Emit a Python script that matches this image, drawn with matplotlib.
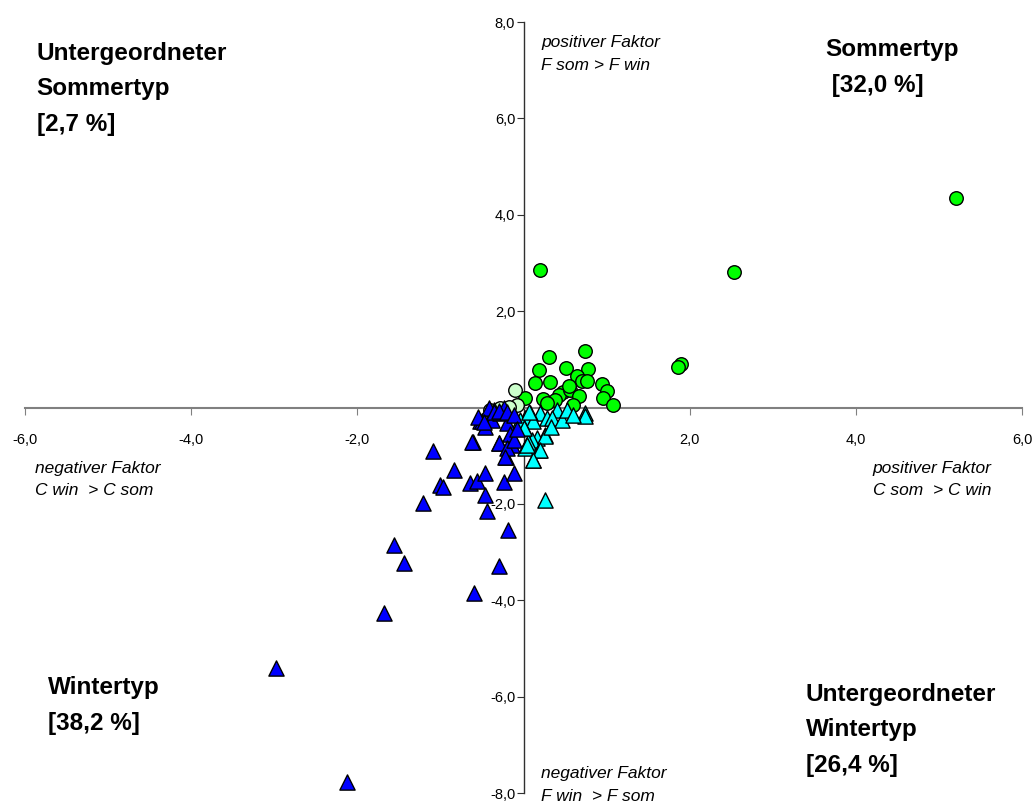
import matplotlib
matplotlib.use("Agg")
import matplotlib.pyplot as plt
from matplotlib.ticker import FuncFormatter

plt.rcParams['font.family'] = ['Liberation Sans', 'DejaVu Sans']

# Sommertyp (green circles)
som_x = [5.21, 2.53, 0.20, 1.90, 1.86, 0.31, 0.74, 0.19, 0.51, 0.78, 0.14, 0.32, 0.64,
         0.70, 0.94, 1.01, 0.96, 1.08, 0.48, 0.43, 0.56, 0.67, 0.60, 0.24, 0.02, 0.55,
         0.76, 0.38, 0.28]
som_y = [4.35, 2.81, 2.85, 0.90, 0.84, 1.05, 1.17, 0.78, 0.81, 0.79, 0.50, 0.52, 0.65,
         0.56, 0.49, 0.34, 0.20, 0.05, 0.32, 0.26, 0.36, 0.24, 0.05, 0.18, 0.20, 0.45,
         0.55, 0.15, 0.10]

# Untergeordneter Sommertyp (pale green circles)
usom_x = [-0.10, -0.08, -0.40, -0.28, -0.18]
usom_y = [0.36, 0.05, -0.05, -0.02, 0.02]

# Wintertyp (blue triangles)
win_x = [-2.98, -2.12, -1.68, -1.44, -1.56, -0.60, -0.29, -0.19, -1.21, -1.09, -0.61,
         -0.84, -1.00, -0.97, -0.64, -0.56, -0.46, -0.24, -0.12, -0.46, -0.44, -0.21,
         -0.29, -0.14, -0.52, -0.38, -0.20, -0.16, -0.50, -0.46, -0.62, -0.35, -0.28,
         -0.30, -0.20, -0.12, -0.22, -0.42, -0.24, -0.36, -0.30, -0.20, -0.11, -0.55,
         -0.47, -0.08]
win_y = [-5.40, -7.77, -4.27, -3.23, -2.85, -3.85, -3.29, -2.54, -1.98, -0.90, -0.71,
         -1.30, -1.61, -1.64, -1.56, -1.52, -1.35, -1.54, -1.35, -1.82, -2.14, -1.03,
         -0.73, -0.78, -0.29, -0.26, -0.33, -0.54, -0.29, -0.40, -0.71, -0.05, -0.12,
         -0.74, -0.85, -0.67, -1.02, -0.02, -0.02, -0.10, -0.08, -0.10, -0.15, -0.20,
         -0.30, -0.45]

# Untergeordneter Wintertyp (cyan triangles)
uwin_x = [0.26, 0.20, 0.28, 0.40, 0.34, 0.46, 0.74, 0.74, 0.08, 0.02, 0.12, 0.00,
          0.26, 0.16, 0.10, 0.02, 0.19, 0.12, 0.06, 0.26, 0.20, 0.11, -0.04, 0.07,
          0.01, 0.04, 0.52, 0.60, 0.33]
uwin_y = [-1.92, -0.12, -0.22, -0.05, -0.22, -0.26, -0.12, -0.18, -0.12, -0.22, -0.29,
          -0.43, -0.57, -0.64, -0.67, -0.85, -0.88, -1.09, -0.71, -0.60, -0.88, -1.09,
          -0.26, -0.10, -0.43, -0.78, -0.05, -0.15, -0.40]

x_ticks = [-6, -4, -2, 2, 4, 6]
y_ticks = [-8, -6, -4, -2, 2, 4, 6, 8]

fig = plt.figure(figsize=(10.34, 8.05), dpi=100)
ax = fig.add_axes([25/1034, 1-793/805, (1022-25)/1034, (793-22)/805])
ax.set_xlim(-6, 6)
ax.set_ylim(-8, 8)

ax.spines['left'].set_position('zero')
ax.spines['bottom'].set_position('zero')
ax.spines['top'].set_visible(False)
ax.spines['right'].set_visible(False)
ax.spines['left'].set_color('#303030')
ax.spines['bottom'].set_color('#808080')
ax.spines['left'].set_linewidth(1.0)
ax.spines['bottom'].set_linewidth(1.5)

ax.set_xticks(x_ticks)
ax.set_yticks(y_ticks)
fmt = FuncFormatter(lambda v, p: f"{v:.1f}".replace('.', ','))
ax.xaxis.set_major_formatter(fmt)
ax.yaxis.set_major_formatter(fmt)
ax.tick_params(axis='x', direction='out', length=5, labelsize=10.5, pad=13, colors='black')
ax.tick_params(axis='y', direction='out', length=5, labelsize=10.5, pad=1, colors='black')
ax.tick_params(axis='x', color='#808080')
ax.tick_params(axis='y', color='#303030')

kw = dict(edgecolors='black', linewidths=1.0, zorder=3)
ax.scatter(som_x, som_y, marker='o', s=95, c='#00FF00', **kw)
ax.scatter(usom_x, usom_y, marker='o', s=95, c='#CCFFCC', **kw)
ax.scatter(uwin_x, uwin_y, marker='^', s=120, c='#00FFFF', **kw)
ax.scatter(win_x, win_y, marker='^', s=120, c='#0000FF', **kw)

bold = dict(fontsize=17.5, fontweight='bold', va='top', ha='left', linespacing=1.68)
ax.text(-5.86, 7.58, "Untergeordneter\nSommertyp\n[2,7 %]", **bold)
ax.text(3.63, 7.66, "Sommertyp\n [32,0 %]", **bold)
ax.text(-5.72, -5.58, "Wintertyp\n[38,2 %]", **bold)
ax.text(3.40, -5.72, "Untergeordneter\nWintertyp\n[26,4 %]", **bold)

ital = dict(fontsize=12.5, fontstyle='italic', va='top', linespacing=1.62)
ax.text(0.21, 7.72, "positiver Faktor\nF som > F win", ha='left', **ital)
ax.text(-5.88, -1.10, "negativer Faktor\nC win  > C som", ha='left', **ital)
ax.text(5.63, -1.10, "positiver Faktor\nC som  > C win", ha='right', **ital)
ax.text(0.21, -7.45, "negativer Faktor\nF win  > F som", ha='left', **ital)

fig.savefig("out.png", dpi=100)
